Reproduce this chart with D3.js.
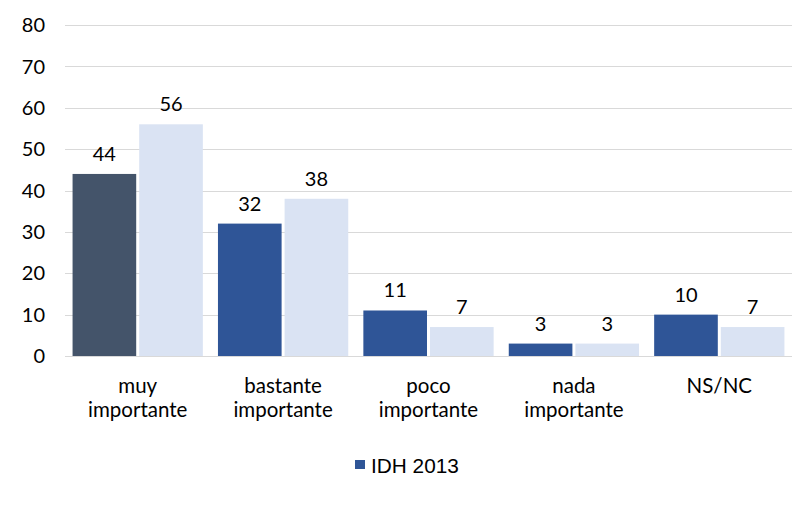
<!DOCTYPE html>
<html><head><meta charset="utf-8">
<script src="https://cdn.jsdelivr.net/npm/d3@7"></script>
<style>body{margin:0;background:#fff}</style>
</head><body>
<svg id="c" width="805" height="522"></svg>
<script>
const categories = [["muy","importante"],["bastante","importante"],["poco","importante"],["nada","importante"],["NS/NC"]];
const seriesNames = ["IDH 2013", "Otro"];
const idh2013 = [44, 32, 11, 3, 10];
const other = [56, 38, 7, 3, 7];
const yTicks = [0,10,20,30,40,50,60,70,80];

const svg = d3.select("#c");
const mLeft = 65, mRight = 792, mTop = 25, mBottom = 356;
const x = d3.scaleBand().domain(d3.range(categories.length)).range([mLeft, mRight]).paddingInner(0.104).paddingOuter(0.052);
const xs = d3.scaleBand().domain([0,1]).range([0, x.bandwidth()]).paddingInner(0.045);
const y = d3.scaleLinear().domain([0,80]).range([mBottom, mTop]);

const font = "Lato, 'Open Sans', sans-serif";
// grid
svg.append("g").selectAll("line").data(yTicks).join("line")
  .attr("x1", mLeft).attr("x2", mRight)
  .attr("y1", d => Math.round(y(d))+0.5).attr("y2", d => Math.round(y(d))+0.5)
  .attr("stroke", "#d9d9d9").attr("stroke-width", 1);
// y labels
svg.append("g").selectAll("text").data(yTicks).join("text")
  .attr("x", 45).attr("y", d => y(d)).attr("dy", "0.36em")
  .attr("text-anchor", "end").attr("font-family", font).attr("font-size", 20).attr("fill", "#000")
  .text(d => d);

const colors1 = ["#44546a", "#2f5597", "#2f5597", "#2f5597", "#2f5597"];
const g = svg.append("g");
[idh2013, other].forEach((vals, si) => {
  g.selectAll(".b"+si).data(vals).join("rect")
    .attr("x", (d,i) => x(i) + xs(si)).attr("width", xs.bandwidth())
    .attr("y", d => y(d)).attr("height", d => mBottom - y(d))
    .attr("fill", (d,i) => si === 0 ? colors1[i] : "#dae3f3");
  g.selectAll(".l"+si).data(vals).join("text")
    .attr("x", (d,i) => x(i) + xs(si) + xs.bandwidth()/2).attr("y", d => y(d) - 13)
    .attr("text-anchor", "middle").attr("font-family", font).attr("font-size", 20).attr("fill", "#000")
    .text(d => d);
});
// category labels
categories.forEach((lines, i) => {
  const t = svg.append("text").attr("text-anchor", "middle").attr("font-family", font).attr("font-size", 20.5).attr("fill", "#000");
  lines.forEach((ln, k) => t.append("tspan").attr("x", x(i) + x.bandwidth()/2).attr("y", 393 + k*24).text(ln));
});
// legend
svg.append("rect").attr("x", 355).attr("y", 460).attr("width", 10).attr("height", 9).attr("fill", "#2f5597");
svg.append("text").attr("x", 371).attr("y", 472.5).attr("font-family", "'Liberation Sans', Arial, sans-serif").attr("font-size", 20.8).attr("fill", "#000").text(seriesNames[0]);
</script>
</body></html>
